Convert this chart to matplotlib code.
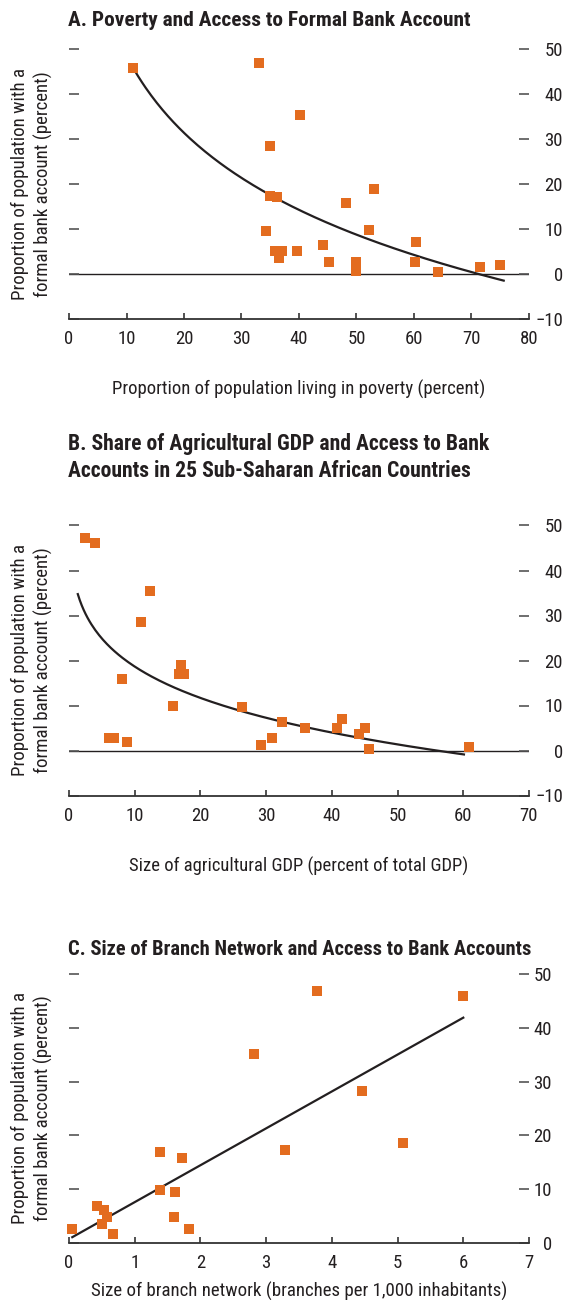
import numpy as np
import matplotlib
matplotlib.use("Agg")
import matplotlib.pyplot as plt
from matplotlib import font_manager

# A. poverty vs formal bank account
pov_x = [11.1, 33.0, 40.1, 35.0, 34.9, 36.1, 34.2, 35.8, 37.0, 36.5, 39.6, 44.1,
         45.3, 48.1, 53.0, 52.1, 50.0, 50.0, 60.3, 60.1, 64.2, 71.4, 75.0]
pov_y = [45.8, 46.8, 35.2, 28.3, 17.2, 17.0, 9.6, 5.0, 5.0, 3.5, 5.0, 6.3,
         2.7, 15.8, 18.8, 9.8, 2.7, 0.7, 7.0, 2.7, 0.3, 1.4, 2.0]
pov_trend = (105.3, -24.7)      # y = a + b*ln(x)
pov_trend_span = (11.4, 75.6)

# B. agricultural GDP share vs bank accounts
agr_x = [2.4, 3.9, 12.3, 10.9, 17.0, 16.7, 17.5, 8.0, 15.8, 6.1, 6.8, 8.8,
         26.4, 29.2, 30.9, 32.4, 35.9, 40.8, 41.6, 44.2, 45.0, 45.6, 60.8]
agr_y = [47.2, 46.1, 35.4, 28.5, 19.0, 17.1, 17.1, 15.9, 9.8, 2.8, 2.8, 1.9,
         9.6, 1.3, 2.8, 6.3, 5.1, 5.0, 7.0, 3.6, 5.1, 0.3, 0.7]
agr_trend_x = [1.34, 3.63, 6.18, 8.72, 13.8, 18.9, 26.5, 35.2, 60.1]
agr_trend_y = [35.1, 26.8, 23.0, 20.1, 15.6, 12.3, 8.95, 5.8, -1.34]

# C. branch network vs bank accounts
br_x = [0.04, 0.42, 0.53, 0.58, 0.50, 0.67, 1.38, 1.39, 1.72, 1.62, 1.60, 1.82,
        2.81, 3.29, 3.78, 4.46, 5.09, 5.99]
br_y = [2.6, 6.9, 6.1, 4.8, 3.5, 1.6, 9.9, 16.9, 15.8, 9.5, 4.8, 2.6,
        35.1, 17.2, 46.8, 28.3, 18.6, 45.9]
br_trend = (0.74, 6.857)        # y = a + b*x
br_trend_span = (0.05, 6.0)

ylabel = "Proportion of population with a\nformal bank account (percent)"


def pick_font(names):
    for n in names:
        try:
            font_manager.findfont(n, fallback_to_default=False)
            return n
        except ValueError:
            pass
    return "DejaVu Sans"


font = pick_font(["Liberation Sans Narrow", "Roboto Condensed", "DejaVu Sans Condensed",
                  "Liberation Sans"])
plt.rcParams["font.family"] = [font, "DejaVu Sans"]

W, H = 567, 1300
AX_L, AX_R = 69, 529
ORANGE = "#E36C1F"
INK = "#231F20"
TICK_SIZE = 13.5

fig = plt.figure(figsize=(W / 100, H / 100), dpi=100)
renderer = fig.canvas.get_renderer()


def fx(px):
    return px / W


def fy(px):
    return 1 - px / H


def fitted_text(x, y, s, target, vertical=False, **kw):
    # scale font so the text spans `target` pixels like in the source
    t = fig.text(fx(x), fy(y), s, fontsize=10, color=INK, **kw)
    bb = t.get_window_extent(renderer)
    span = bb.height if vertical else bb.width
    t.set_fontsize(10 * target / span)
    return t


def make_panel(top, bottom, xlim, xticks, ylim, yticks, label_end):
    ax = fig.add_axes([fx(AX_L), fy(bottom), fx(AX_R) - fx(AX_L), (bottom - top) / H])
    for s in ["top", "left", "right"]:
        ax.spines[s].set_visible(False)
    ax.spines["bottom"].set_color("#333333")
    ax.spines["bottom"].set_linewidth(1.3)
    ax.set_xlim(*xlim)
    ax.set_ylim(*ylim)
    ax.set_xticks(xticks)
    ax.set_yticks(yticks)
    ax.tick_params(axis="x", direction="in", length=4, width=1.2, color="#333333",
                   pad=8, labelsize=TICK_SIZE, labelcolor=INK)
    ax.tick_params(axis="y", direction="in", left=True, right=True, labelleft=False,
                   labelright=False, length=7.5, width=1.2, color="#555555")
    # right-hand labels, right aligned
    xa = (label_end - AX_L) / (AX_R - AX_L)
    for v in yticks:
        ax.text(xa, v, str(v).replace("-", "\u2212"), transform=ax.get_yaxis_transform(),
                ha="right", va="center_baseline", fontsize=TICK_SIZE, color=INK,
                clip_on=False)
    return ax


def ylab(center):
    fitted_text(32, center, ylabel, 230, vertical=True, rotation=90, ha="center",
                va="center", multialignment="center", linespacing=1.28)


# panel A
ax = make_panel(48.7, 318.7, (0, 80), range(0, 81, 10), (-10, 50), range(-10, 51, 10), 563)
ax.axhline(0, color=INK, lw=1.0, zorder=1)
xs = np.linspace(*pov_trend_span, 200)
ax.plot(xs, pov_trend[0] + pov_trend[1] * np.log(xs), color=INK, lw=1.6, zorder=2)
ax.plot(pov_x, pov_y, "s", color=ORANGE, ms=7.5, mew=0, zorder=3)
fitted_text(68, 26, "A. Poverty and Access to Formal Bank Account", 402,
            fontweight="bold", va="baseline")
ylab(183.7)
fitted_text(299, 395, "Proportion of population living in poverty (percent)", 372,
            ha="center", va="baseline")

# panel B
ax = make_panel(525.5, 795.5, (0, 70), range(0, 71, 10), (-10, 50), range(-10, 51, 10), 563)
ax.axhline(0, color=INK, lw=1.0, zorder=1)
coef = np.polyfit(np.log(agr_trend_x), agr_trend_y, 2)
xs = np.linspace(agr_trend_x[0], agr_trend_x[-1], 200)
ax.plot(xs, np.polyval(coef, np.log(xs)), color=INK, lw=1.6, zorder=2)
ax.plot(agr_x, agr_y, "s", color=ORANGE, ms=7.5, mew=0, zorder=3)
fitted_text(68, 477.3, "B. Share of Agricultural GDP and Access to Bank\n"
            "Accounts in 25 Sub-Saharan African Countries", 420,
            fontweight="bold", va="baseline", linespacing=1.3)
ylab(660.5)
fitted_text(299, 871.7, "Size of agricultural GDP (percent of total GDP)", 339,
            ha="center", va="baseline")

# panel C
ax = make_panel(974, 1243, (0, 7), range(0, 8), (0, 50), range(0, 51, 10), 552)
xs = np.linspace(*br_trend_span, 50)
ax.plot(xs, br_trend[0] + br_trend[1] * xs, color=INK, lw=1.6, zorder=2)
ax.plot(br_x, br_y, "s", color=ORANGE, ms=7.5, mew=0, zorder=3, clip_on=False)
fitted_text(68, 955, "C. Size of Branch Network and Access to Bank Accounts", 462,
            fontweight="bold", va="baseline")
ylab(1108.5)
fitted_text(299, 1297, "Size of branch network (branches per 1,000 inhabitants)", 414,
            ha="center", va="baseline")

fig.savefig("out.png", dpi=100)
